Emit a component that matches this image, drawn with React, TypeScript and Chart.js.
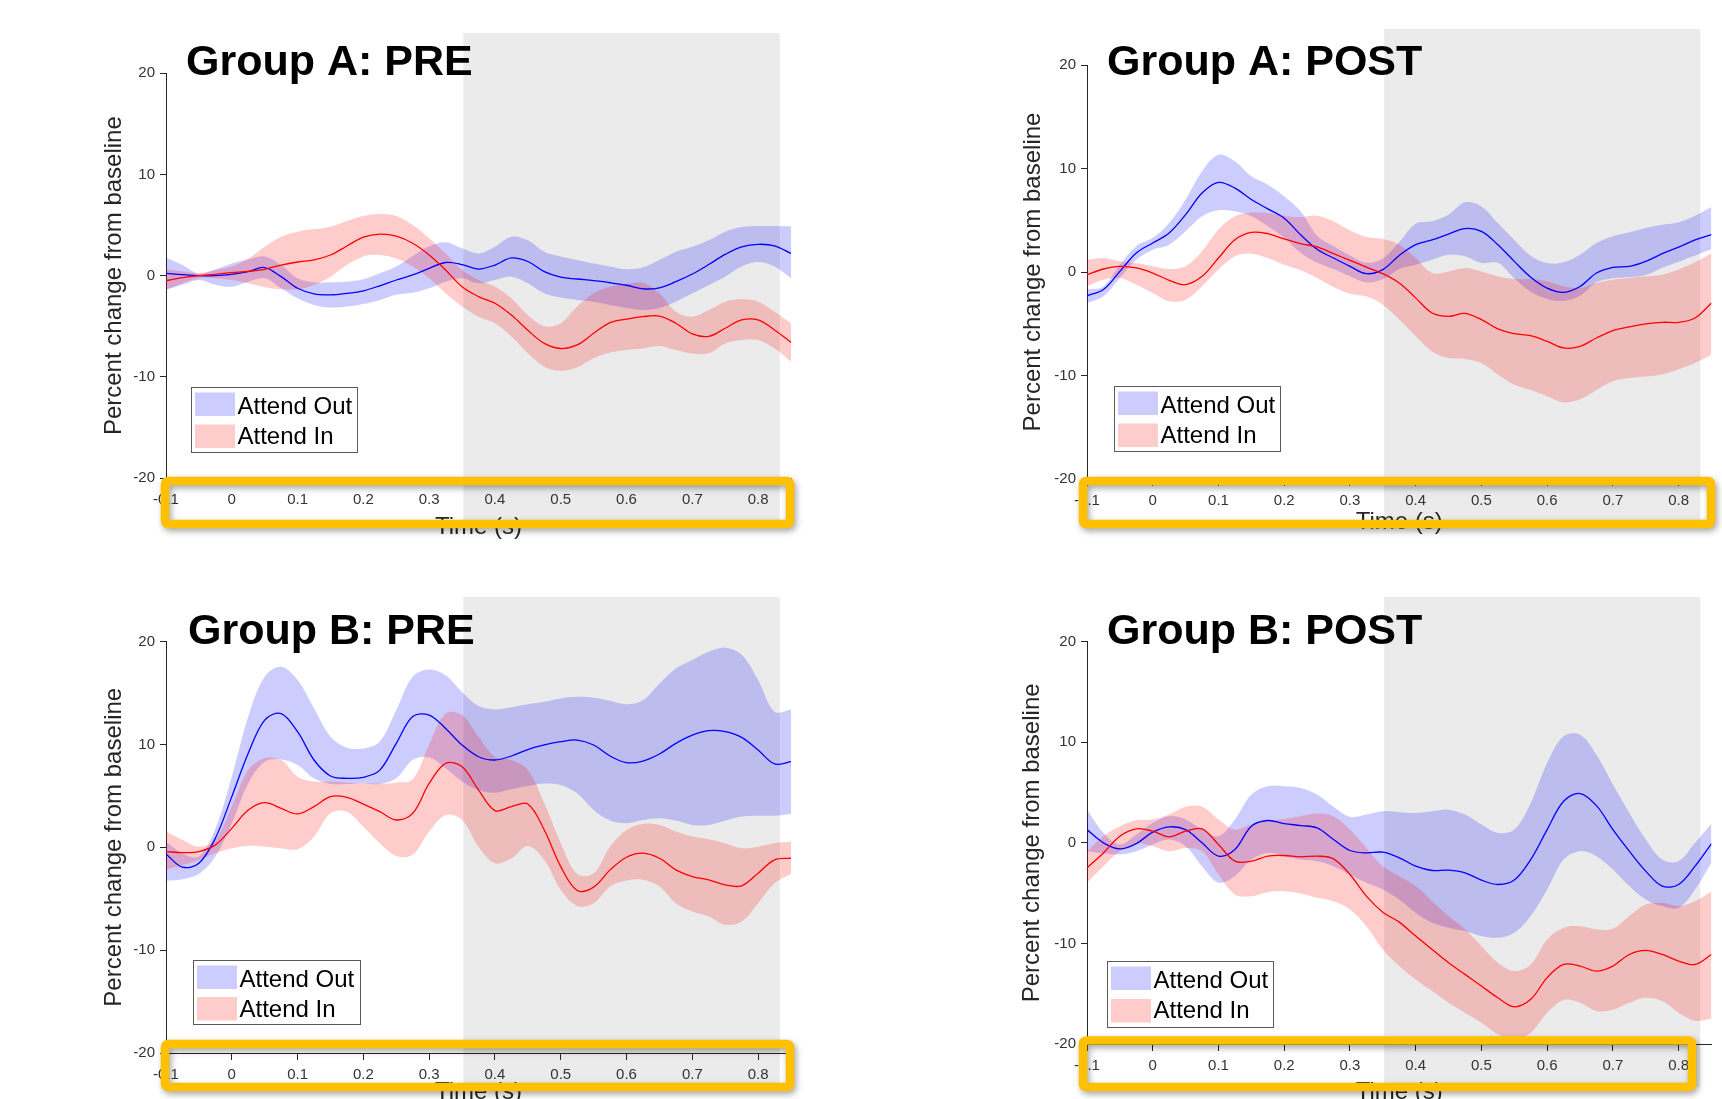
import React, { useEffect, useRef } from 'react';
import { Chart, registerables } from 'chart.js';

Chart.register(...registerables);
Chart.defaults.font.family = '"Liberation Sans", Arial, Helvetica, sans-serif';

// ---------------- data ----------------
const times = [-0.1, -0.075, -0.05, -0.025, 0, 0.025, 0.05, 0.075, 0.1, 0.125, 0.15, 0.175, 0.2, 0.225, 0.25, 0.275, 0.3, 0.325, 0.35, 0.375, 0.4, 0.425, 0.45, 0.475, 0.5, 0.525, 0.55, 0.575, 0.6, 0.625, 0.65, 0.675, 0.7, 0.725, 0.75, 0.775, 0.8, 0.825, 0.85];
const xTickValues = [-0.1, 0, 0.1, 0.2, 0.3, 0.4, 0.5, 0.6, 0.7, 0.8];
const xTickLabels = ['-0.1', '0', '0.1', '0.2', '0.3', '0.4', '0.5', '0.6', '0.7', '0.8'];
const yTickValues = [-20, -10, 0, 10, 20];
const yTickLabels = ['-20', '-10', '0', '10', '20'];
const seriesNames = ['Attend Out', 'Attend In'];
const panelTitles = ['Group A: PRE', 'Group A: POST', 'Group B: PRE', 'Group B: POST'];
const xAxisLabel = 'Time (s)';
const yAxisLabel = 'Percent change from baseline';
const windowStart = 0.352;
const windowEnd = 0.833;

// Group A PRE
const aPreOut = [0.23, 0.1, 0, 0, 0.13, 0.4, 0.8, -0.1, -1.25, -1.8, -1.9, -1.75, -1.5, -1.0, -0.43, 0.07, 0.72, 1.3, 1.1, 0.65, 1.05, 1.75, 1.4, 0.4, -0.15, -0.33, -0.5, -0.7, -0.95, -1.3, -1.2, -0.6, 0.16, 1.1, 2.1, 2.85, 3.1, 2.95, 2.2];
const aPreOutHi = [1.8, 1.05, 0.2, 0.6, 1.2, 1.6, 1.9, 1.05, -0.26, -0.66, -0.66, -0.6, -0.36, 0.23, 0.9, 1.95, 2.9, 3.3, 2.7, 2.2, 2.86, 3.85, 3.5, 2.37, 1.9, 1.55, 1.2, 0.9, 0.63, 0.82, 1.55, 2.37, 2.86, 3.5, 4.35, 4.8, 4.9, 4.9, 4.85];
const aPreOutLo = [-1.4, -0.9, -0.43, -0.9, -1.1, -0.6, -0.26, -1.25, -2.24, -2.9, -3.15, -3.05, -2.8, -2.4, -1.9, -1.7, -1.25, -0.6, -0.26, -0.76, -0.43, -0.1, -0.76, -1.75, -2.17, -2.4, -2.57, -2.9, -3.2, -3.4, -3.2, -2.57, -1.75, -0.92, -0.1, 0.9, 1.35, 0.9, -0.26];
const aPreIn = [-0.5, -0.2, 0, 0.13, 0.3, 0.43, 0.63, 1.05, 1.35, 1.55, 2.04, 2.93, 3.8, 4.1, 3.9, 3.2, 2.04, 0.56, -1.1, -2.07, -2.73, -3.9, -5.4, -6.7, -7.2, -6.85, -5.7, -4.64, -4.3, -4.05, -4.0, -4.7, -5.76, -6.0, -5.2, -4.38, -4.38, -5.37, -6.6];
const aPreInHi = [0.63, 0.4, 0.23, 0.56, 0.9, 1.7, 2.86, 3.85, 4.35, 4.6, 4.84, 5.4, 5.9, 6.1, 5.9, 5.0, 3.7, 2.2, 0.56, -0.43, -1.1, -2.24, -3.9, -5.0, -4.7, -3.06, -1.75, -1.1, -0.82, -0.7, -1.75, -3.56, -4.05, -3.4, -2.57, -2.34, -2.57, -3.56, -4.7];
const aPreInLo = [-1.4, -0.76, -0.26, -0.26, -0.43, -0.76, -1.15, -1.35, -1.35, -0.92, -0.1, 1.05, 1.9, 2.04, 1.7, 0.9, -0.26, -1.75, -3.06, -4.05, -4.7, -6.0, -7.67, -9.0, -9.4, -9.05, -8.17, -7.6, -7.35, -7.2, -6.95, -7.35, -7.7, -7.67, -6.7, -6.36, -6.36, -7.2, -8.5];

// Group A POST
const aPostOut = [-2.3, -1.7, 0.06, 1.84, 2.8, 3.77, 5.54, 7.63, 8.66, 8.1, 7.0, 6.1, 5.2, 3.6, 2.2, 1.35, 0.55, -0.16, 0.23, 1.6, 2.64, 3.1, 3.67, 4.2, 3.93, 2.64, 1.03, -0.5, -1.55, -1.96, -1.4, -0.1, 0.45, 0.55, 1.03, 1.77, 2.4, 3.1, 3.6];
const aPostOutHi = [-1.7, -1.4, 0.7, 2.5, 3.3, 4.73, 7.0, 9.73, 11.33, 10.7, 9.24, 8.44, 7.3, 5.86, 3.5, 2.5, 1.6, 0.9, 1.3, 2.9, 4.67, 4.9, 5.54, 6.73, 6.34, 4.73, 3.1, 1.58, 0.87, 0.93, 1.67, 2.8, 3.45, 3.83, 4.25, 4.57, 4.8, 5.44, 6.28];
const aPostOutLo = [-3.0, -2.35, -0.58, 1.19, 2.16, 2.64, 3.93, 5.38, 5.96, 5.86, 5.38, 4.41, 3.3, 1.84, 0.9, 0.3, -0.4, -1.0, -0.7, 0.3, 0.7, 1.19, 1.67, 1.51, 0.87, 0.9, -0.6, -1.9, -2.6, -2.8, -2.3, -1.0, -0.6, -0.5, -0.3, 0.4, 1.0, 1.6, 2.2];
const aPostIn = [-0.26, 0.29, 0.55, 0.39, -0.1, -0.8, -1.22, -0.42, 1.35, 3.12, 3.83, 3.7, 3.19, 2.74, 2.42, 1.77, 1.13, 0.48, -0.16, -1.06, -2.5, -3.96, -4.28, -4.0, -4.6, -5.5, -5.96, -6.15, -6.7, -7.34, -7.18, -6.38, -5.67, -5.3, -5.02, -4.86, -4.86, -4.44, -3.0];
const aPostInHi = [1.19, 1.35, 1.03, 0.87, 0.55, 0.29, 0.55, 2.0, 4.1, 5.38, 5.76, 5.7, 5.44, 5.31, 5.44, 4.9, 4.03, 3.38, 3.19, 2.64, 1.35, -0.1, 0.06, 0.39, 0.06, -0.42, -0.68, -0.68, -0.9, -1.38, -1.55, -1.06, -0.74, -0.58, -0.42, -0.26, 0.23, 0.93, 1.84];
const aPostInLo = [-1.38, -0.74, -0.58, -1.22, -2.03, -2.83, -2.67, -1.38, 0.23, 1.51, 1.77, 1.35, 0.7, 0.16, -0.58, -1.45, -2.1, -2.35, -3.16, -4.6, -6.2, -7.67, -8.3, -8.4, -8.8, -9.9, -10.9, -11.4, -12.0, -12.6, -12.3, -11.4, -10.56, -10.24, -10.1, -9.9, -9.4, -8.8, -8.0];

// Group B PRE
const bPreOut = [-0.65, -1.94, -1.55, 0.87, 4.92, 9.13, 12.36, 13.0, 11.23, 8.48, 6.93, 6.7, 6.8, 7.5, 10.1, 12.7, 12.85, 11.55, 9.94, 8.8, 8.48, 8.87, 9.5, 9.94, 10.26, 10.42, 9.94, 8.87, 8.22, 8.38, 9.06, 10.1, 10.9, 11.33, 11.23, 10.68, 9.45, 8.1, 8.32];
const bPreOutHi = [0.5, -0.6, -0.9, 1.8, 6.86, 12.7, 16.57, 17.54, 16.25, 13.5, 10.74, 9.68, 9.61, 10.26, 13.33, 16.57, 17.28, 16.73, 15.1, 13.72, 13.4, 13.6, 13.9, 14.14, 14.47, 14.63, 14.53, 14.24, 13.9, 14.3, 15.9, 17.38, 18.2, 19.0, 19.4, 18.7, 16.25, 13.17, 13.4];
const bPreOutLo = [-3.24, -3.1, -2.6, -0.9, 2.33, 6.2, 8.3, 8.54, 8.0, 6.7, 6.15, 6.15, 6.2, 6.15, 6.7, 8.48, 8.74, 7.67, 6.38, 5.57, 5.3, 5.63, 5.95, 6.2, 6.05, 5.24, 3.62, 2.59, 2.33, 2.65, 2.82, 2.59, 2.17, 2.17, 2.59, 2.98, 3.07, 3.07, 3.24];
const bPreIn = [-0.42, -0.52, -0.42, 0.23, 1.84, 3.62, 4.34, 3.79, 3.24, 3.95, 4.92, 4.85, 4.2, 3.46, 2.65, 3.3, 6.2, 8.15, 7.83, 5.57, 3.56, 3.95, 4.2, 1.68, -1.88, -4.2, -3.88, -2.2, -0.97, -0.58, -1.07, -2.2, -2.85, -3.17, -3.66, -3.75, -2.52, -1.23, -1.07];
const bPreInHi = [1.52, 0.71, 0.06, 0.71, 3.95, 7.5, 8.64, 8.48, 6.86, 6.38, 6.38, 6.28, 6.2, 6.2, 6.28, 6.6, 10.0, 13.0, 12.85, 10.74, 8.8, 8.48, 7.5, 4.27, 0.39, -2.6, -2.52, 0.06, 1.68, 2.27, 2.17, 1.52, 1.04, 0.78, 0.39, -0.1, 0.06, 0.39, 0.55];
const bPreInLo = [-2.14, -1.72, -1.23, -0.58, -0.1, 0.13, 0.06, -0.1, -0.19, 1.04, 3.3, 3.46, 2.0, 0.39, -0.84, -0.74, 1.52, 3.14, 2.65, 0.06, -1.55, -1.07, 0.13, -1.23, -4.14, -5.7, -5.44, -3.82, -3.24, -3.17, -3.82, -5.44, -6.25, -6.73, -7.54, -7.22, -5.44, -3.5, -2.6];

// Group B POST
const bPostOut = [1.32, 0, -0.6, -0.07, 1.06, 1.59, 1.32, 0, -1.32, -0.66, 1.66, 2.22, 1.92, 1.72, 1.49, 0.33, -0.76, -1.0, -0.93, -1.49, -2.32, -2.75, -2.72, -2.98, -3.7, -4.14, -3.7, -1.66, 1.32, 4.14, 4.9, 3.7, 1.32, -0.83, -2.81, -4.3, -4.14, -2.32, -0.07];
const bPostOutHi = [3.3, 1.0, -0.17, 0.83, 1.99, 2.65, 2.32, 1.32, 0.66, 2.32, 4.8, 5.63, 5.63, 5.46, 4.8, 3.58, 2.58, 2.81, 3.15, 3.05, 2.98, 3.15, 3.3, 2.81, 1.82, 0.99, 1.32, 3.97, 7.95, 10.6, 10.76, 8.77, 5.8, 2.98, 0.33, -1.66, -1.82, 0, 1.92];
const bPostOutLo = [-0.83, -1.06, -1.16, -0.83, -0.17, 0.33, -0.33, -2.32, -3.97, -3.3, -1.66, -1.0, -1.32, -1.66, -1.82, -2.32, -3.15, -3.97, -4.64, -5.63, -6.95, -7.95, -8.44, -8.77, -9.27, -9.44, -8.94, -7.28, -4.64, -1.66, -0.83, -1.32, -2.65, -4.3, -5.63, -6.29, -6.46, -4.64, -1.99];
const bPostIn = [-2.48, -1.0, 0.66, 1.39, 1.16, 0.6, 1.16, 1.39, -0.17, -1.82, -1.82, -1.32, -1.26, -1.39, -1.32, -1.59, -3.15, -5.3, -6.89, -7.88, -9.27, -10.6, -11.92, -13.08, -14.24, -15.4, -16.3, -15.56, -13.4, -12.09, -12.25, -12.75, -12.25, -11.1, -10.7, -11.1, -11.75, -12.09, -11.1];
const bPostInHi = [-0.83, 0.66, 1.66, 2.25, 2.32, 2.81, 3.58, 3.58, 2.32, 1.32, 1.82, 2.15, 2.38, 2.65, 2.91, 2.65, 1.32, -0.5, -2.32, -3.3, -4.3, -5.8, -7.28, -8.6, -10.26, -11.92, -12.75, -12.09, -9.6, -8.44, -8.28, -8.6, -8.54, -7.28, -6.13, -5.96, -6.29, -5.8, -4.8];
const bPostInLo = [-3.97, -2.32, -0.83, -0.07, -0.33, -0.83, -0.5, -0.83, -3.15, -5.13, -5.3, -4.9, -4.8, -5.03, -5.46, -5.8, -6.62, -8.28, -10.6, -12.25, -13.58, -14.74, -15.9, -16.9, -17.88, -19.04, -19.54, -18.87, -16.9, -15.63, -15.9, -16.72, -16.6, -15.9, -15.4, -15.73, -16.9, -17.7, -17.5];

// ---------------- styles ----------------
const BLUE = '#0000FF';
const RED = '#FF0000';
const BLUE_BAND = 'rgba(0,0,255,0.2)';
const RED_BAND = 'rgba(255,0,0,0.2)';
const AXIS = '#262626';
const FONT = '"Liberation Sans", Arial, Helvetica, sans-serif';

type Rect = { x: number; y: number; w: number; h: number };
type Panel = {
  title: string;
  cx: number; cy: number; cw: number; ch: number;
  L: number; T: number; R: number; B: number;
  yTitleGap: number; xTitleGap: number;
  titleX: number; titleY: number;
  legend: Rect;
  box: { l: number; t: number; r: number; b: number };
  greyTop: number; greyBottom: number;
  series: number[][]; // outHi, outLo, inHi, inLo, out, in
};

const panels: Panel[] = [
  {
    title: panelTitles[0], cx: 0, cy: 0, cw: 861, ch: 550,
    L: 166, T: 73.3, R: 791, B: 478, yTitleGap: 52, xTitleGap: 49.5,
    titleX: 186, titleY: 75,
    legend: { x: 191, y: 387, w: 166, h: 65 },
    box: { l: 165, t: 481, r: 790, b: 524 },
    greyTop: 33, greyBottom: 524,
    series: [aPreOutHi, aPreOutLo, aPreInHi, aPreInLo, aPreOut, aPreIn],
  },
  {
    title: panelTitles[1], cx: 861, cy: 0, cw: 861, ch: 550,
    L: 1087, T: 65, R: 1711.5, B: 479, yTitleGap: 53.5, xTitleGap: 43,
    titleX: 1107, titleY: 75,
    legend: { x: 1114, y: 386, w: 166, h: 65 },
    box: { l: 1083, t: 481, r: 1711, b: 524 },
    greyTop: 29, greyBottom: 524,
    series: [aPostOutHi, aPostOutLo, aPostInHi, aPostInLo, aPostOut, aPostIn],
  },
  {
    title: panelTitles[2], cx: 0, cy: 550, cw: 861, ch: 560,
    L: 166, T: 641.5, R: 791, B: 1053, yTitleGap: 52, xTitleGap: 39,
    titleX: 188, titleY: 644,
    legend: { x: 193, y: 960, w: 167, h: 64 },
    box: { l: 165, t: 1044, r: 790, b: 1087 },
    greyTop: 597, greyBottom: 1087,
    series: [bPreOutHi, bPreOutLo, bPreInHi, bPreInLo, bPreOut, bPreIn],
  },
  {
    title: panelTitles[3], cx: 861, cy: 550, cw: 861, ch: 560,
    L: 1087, T: 641.7, R: 1711.5, B: 1044, yTitleGap: 54.5, xTitleGap: 48,
    titleX: 1107, titleY: 644,
    legend: { x: 1107, y: 961, w: 166, h: 66 },
    box: { l: 1083, t: 1040.5, r: 1692, b: 1087 },
    greyTop: 597, greyBottom: 1087,
    series: [bPostOutHi, bPostOutLo, bPostInHi, bPostInLo, bPostOut, bPostIn],
  },
];

const pts = (vals: number[]) => times.map((t, i) => ({ x: t, y: vals[i] }));

function makeOverlay(p: Panel) {
  return {
    id: 'panelOverlay',
    beforeDraw(chart: any) {
      const ctx = chart.ctx as CanvasRenderingContext2D;
      const xs = chart.scales.x;
      const x0 = xs.getPixelForValue(windowStart);
      const x1 = xs.getPixelForValue(windowEnd);
      ctx.save();
      ctx.fillStyle = '#EBEBEB';
      ctx.fillRect(x0, p.greyTop - p.cy, x1 - x0, p.greyBottom - p.greyTop);
      ctx.restore();
    },
    afterDraw(chart: any) {
      const ctx = chart.ctx as CanvasRenderingContext2D;
      ctx.save();
      ctx.translate(-p.cx, -p.cy);
      // panel title
      ctx.font = `bold 43px ${FONT}`;
      ctx.fillStyle = '#000';
      ctx.textAlign = 'left';
      ctx.textBaseline = 'alphabetic';
      ctx.fillText(p.title, p.titleX, p.titleY);
      // legend
      const lg = p.legend;
      ctx.fillStyle = '#fff';
      ctx.fillRect(lg.x, lg.y, lg.w, lg.h);
      ctx.strokeStyle = '#5a5a5a';
      ctx.lineWidth = 1;
      ctx.strokeRect(Math.round(lg.x) + 0.5, Math.round(lg.y) + 0.5, lg.w, lg.h);
      const rowStep = lg.h / 2 - 2;
      [BLUE_BAND, RED_BAND].forEach((c, i) => {
        ctx.fillStyle = c;
        ctx.fillRect(lg.x + 4, lg.y + 5.5 + i * (rowStep + 1.5), 40, 23.5);
        ctx.fillStyle = '#000';
        ctx.font = `24px ${FONT}`;
        ctx.fillText(seriesNames[i], lg.x + 46.5, lg.y + 26.5 + i * 30);
      });
      // highlight box
      const b = p.box;
      ctx.shadowColor = 'rgba(0,0,0,0.35)';
      ctx.shadowBlur = 6;
      ctx.shadowOffsetX = 2;
      ctx.shadowOffsetY = 3;
      ctx.strokeStyle = '#FFC000';
      ctx.lineWidth = 8.5;
      ctx.lineJoin = 'round';
      ctx.beginPath();
      (ctx as any).roundRect(b.l, b.t, b.r - b.l, b.b - b.t, 3);
      ctx.stroke();
      ctx.restore();
    },
  };
}

function buildConfig(p: Panel): any {
  const yW = 70;
  const xH = p.xTitleGap + 14.4;
  const [outHi, outLo, inHi, inLo, out, inn] = p.series;
  const band = (data: number[], color: string, fill: any, order: number) => ({
    data: pts(data), borderWidth: 0, borderColor: 'transparent', backgroundColor: color,
    pointRadius: 0, fill, tension: 0.35, order,
  });
  const line = (data: number[], color: string, order: number) => ({
    data: pts(data), borderWidth: 1.3, borderColor: color, backgroundColor: color,
    pointRadius: 0, fill: false, tension: 0.35, order,
  });
  return {
    type: 'line',
    data: {
      datasets: [
        band(outHi, BLUE_BAND, 1, 4),
        band(outLo, BLUE_BAND, false, 4),
        band(inHi, RED_BAND, 3, 3),
        band(inLo, RED_BAND, false, 3),
        line(out, BLUE, 1),
        line(inn, RED, 0),
      ],
    },
    options: {
      responsive: false,
      animation: false,
      devicePixelRatio: 1,
      events: [],
      layout: {
        autoPadding: false,
        padding: {
          left: p.L - p.cx - yW,
          right: p.cx + p.cw - p.R,
          top: p.T - p.cy,
          bottom: p.cy + p.ch - p.B - xH,
        },
      },
      plugins: { legend: { display: false }, tooltip: { enabled: false }, title: { display: false } },
      scales: {
        x: {
          type: 'linear',
          min: -0.1,
          max: 0.85,
          afterBuildTicks: (s: any) => { s.ticks = xTickValues.map((v) => ({ value: v })); },
          afterFit: (s: any) => { s.height = xH; },
          ticks: {
            autoSkip: false, maxRotation: 0, padding: 6, color: '#333',
            font: { size: 15, family: FONT },
            callback: (_v: any, i: number) => xTickLabels[i],
          },
          grid: { drawOnChartArea: false, tickLength: 7, tickColor: AXIS, tickWidth: 1 },
          border: { display: true, color: AXIS, width: 1 },
          title: {
            display: true, text: xAxisLabel, color: AXIS,
            font: { size: 24, family: FONT }, padding: { top: 0, bottom: 0 },
          },
        },
        y: {
          type: 'linear',
          min: -20,
          max: 20,
          afterBuildTicks: (s: any) => { s.ticks = yTickValues.map((v) => ({ value: v })); },
          afterFit: (s: any) => { s.width = yW; },
          ticks: {
            autoSkip: false, padding: 5, color: '#333',
            font: { size: 15, family: FONT },
            callback: (_v: any, i: number) => yTickLabels[i],
          },
          grid: { drawOnChartArea: false, tickLength: 6, tickColor: AXIS, tickWidth: 1 },
          border: { display: true, color: AXIS, width: 1 },
          title: {
            display: true, text: yAxisLabel, color: AXIS,
            font: { size: 24, family: FONT }, padding: { top: yW - 14.4 - p.yTitleGap, bottom: 0 },
          },
        },
      },
    },
    plugins: [makeOverlay(p)],
  };
}

function PanelChart({ p }: { p: Panel }) {
  const ref = useRef<HTMLCanvasElement>(null);
  useEffect(() => {
    if (!ref.current) return;
    const chart = new Chart(ref.current, buildConfig(p));
    return () => chart.destroy();
  }, [p]);
  return (
    <canvas
      ref={ref}
      width={p.cw}
      height={p.ch}
      style={{ position: 'absolute', left: p.cx, top: p.cy, width: p.cw, height: p.ch }}
    />
  );
}

export default function App() {
  return (
    <div
      style={{
        position: 'absolute', left: 0, top: 0, width: 1722, height: 1099,
        overflow: 'hidden', background: '#fff',
      }}
    >
      {panels.map((p, i) => (
        <PanelChart key={i} p={p} />
      ))}
    </div>
  );
}
